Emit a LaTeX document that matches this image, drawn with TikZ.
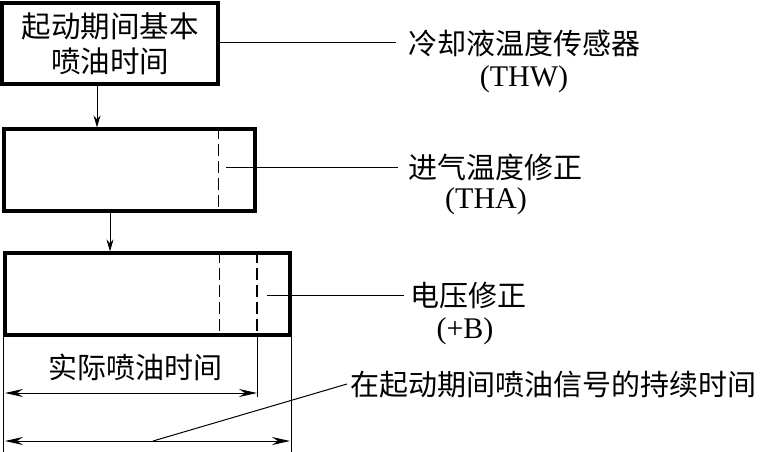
\documentclass[tikz,border=0pt]{standalone}
\usepackage{fontspec}
\setmainfont{Liberation Serif}
\newfontfamily\cjk{Noto Sans CJK SC}
\usetikzlibrary{arrows.meta}
\begin{document}
\begin{tikzpicture}[x=1pt,y=-1pt,
  boxstyle/.style={draw,line width=3.2pt,inner sep=0pt},
  thinline/.style={line width=1pt},
  dashline/.style={line width=1pt,dash pattern=on 12pt off 5pt},
  dashthick/.style={line width=1.8pt,dash pattern=on 12pt off 5pt},
  flowarrow/.style={line width=1pt,-{Stealth[length=12pt,width=7pt,inset=4pt]}},
  dimarrow/.style={line width=1pt,{Stealth[length=18pt,width=8pt,inset=6pt]}-{Stealth[length=18pt,width=8pt,inset=6pt]}},
  cjklabel/.style={font=\cjk\fontsize{29}{34}\selectfont,inner sep=0pt},
  latlabel/.style={font=\fontsize{30}{34}\selectfont,inner sep=0pt}]
\useasboundingbox (0,0) rectangle (765,452);

% boxes
\node[boxstyle,minimum width=216pt,minimum height=81pt,align=center,font=\cjk\fontsize{29.5}{35}\selectfont] (b1) at (110,43.5) {起动期间基本\\喷油时间};
\node[boxstyle,minimum width=251pt,minimum height=82pt] (b2) at (129.5,170) {};
\node[boxstyle,minimum width=285pt,minimum height=82pt] (b3) at (147.5,294) {};

% helper coordinates
\coordinate (a1) at (97,0);
\coordinate (a2) at (110,0);
\coordinate (d2) at (218,0);
\coordinate (d3a) at (219,0);
\coordinate (d3b) at (257,0);

% flow arrows
\draw[flowarrow] (b1.south -| a1) -- (b2.north -| a1);
\draw[flowarrow] (b2.south -| a2) -- (b3.north -| a2);

% dashed lines inside boxes
\draw[dashline] (b2.north -| d2) -- (b2.south -| d2);
\draw[dashline] (b3.north -| d3a) -- (b3.south -| d3a);
\draw[dashthick] (b3.north -| d3b) -- (b3.south -| d3b);

% labels
\node[cjklabel,anchor=west] (l1) at (408,43) {冷却液温度传感器};
\node[latlabel] (l1b) at (524,79) {(THW)};
\node[cjklabel,anchor=west] (l2) at (408,167) {进气温度修正};
\node[latlabel] (l2b) at (486,201) {(THA)};
\node[cjklabel,anchor=west] (l3) at (410,295) {电压修正};
\node[latlabel] (l3b) at (465,331) {(+B)};
\node[cjklabel] (l4) at (135,367) {实际喷油时间};
\node[cjklabel,anchor=west] (l5) at (350,385) {在起动期间喷油信号的持续时间};

% leader lines
\coordinate (e1) at (396,43);
\coordinate (s2) at (226,167);
\coordinate (e2) at (398,167);
\coordinate (s3) at (267,295);
\coordinate (e3) at (404,295);
\draw[thinline] (b1.east |- e1) -- (e1);
\draw[thinline] (s2) -- (e2);
\draw[thinline] (s3) -- (e3);

% extension lines
\coordinate (x1) at (5,452);
\coordinate (x2) at (290,452);
\coordinate (x3) at (257,397);
\draw[thinline] (b3.south west) -- (b3.south west |- x1);
\draw[thinline] (b3.south east) -- (b3.south east |- x2);
\draw[thinline] (b3.south -| d3b) -- (x3);

% dimension arrows
\coordinate (m1l) at (5,393);
\coordinate (m1r) at (257,393);
\coordinate (m2l) at (5,441);
\coordinate (m2r) at (290,441);
\draw[dimarrow] (m1l) -- (m1r);
\draw[dimarrow] (m2l) -- (m2r);

% long leader
\coordinate (p1) at (153,441);
\coordinate (p2) at (347,384);
\draw[thinline] (p1) -- (p2);
\end{tikzpicture}
\end{document}
